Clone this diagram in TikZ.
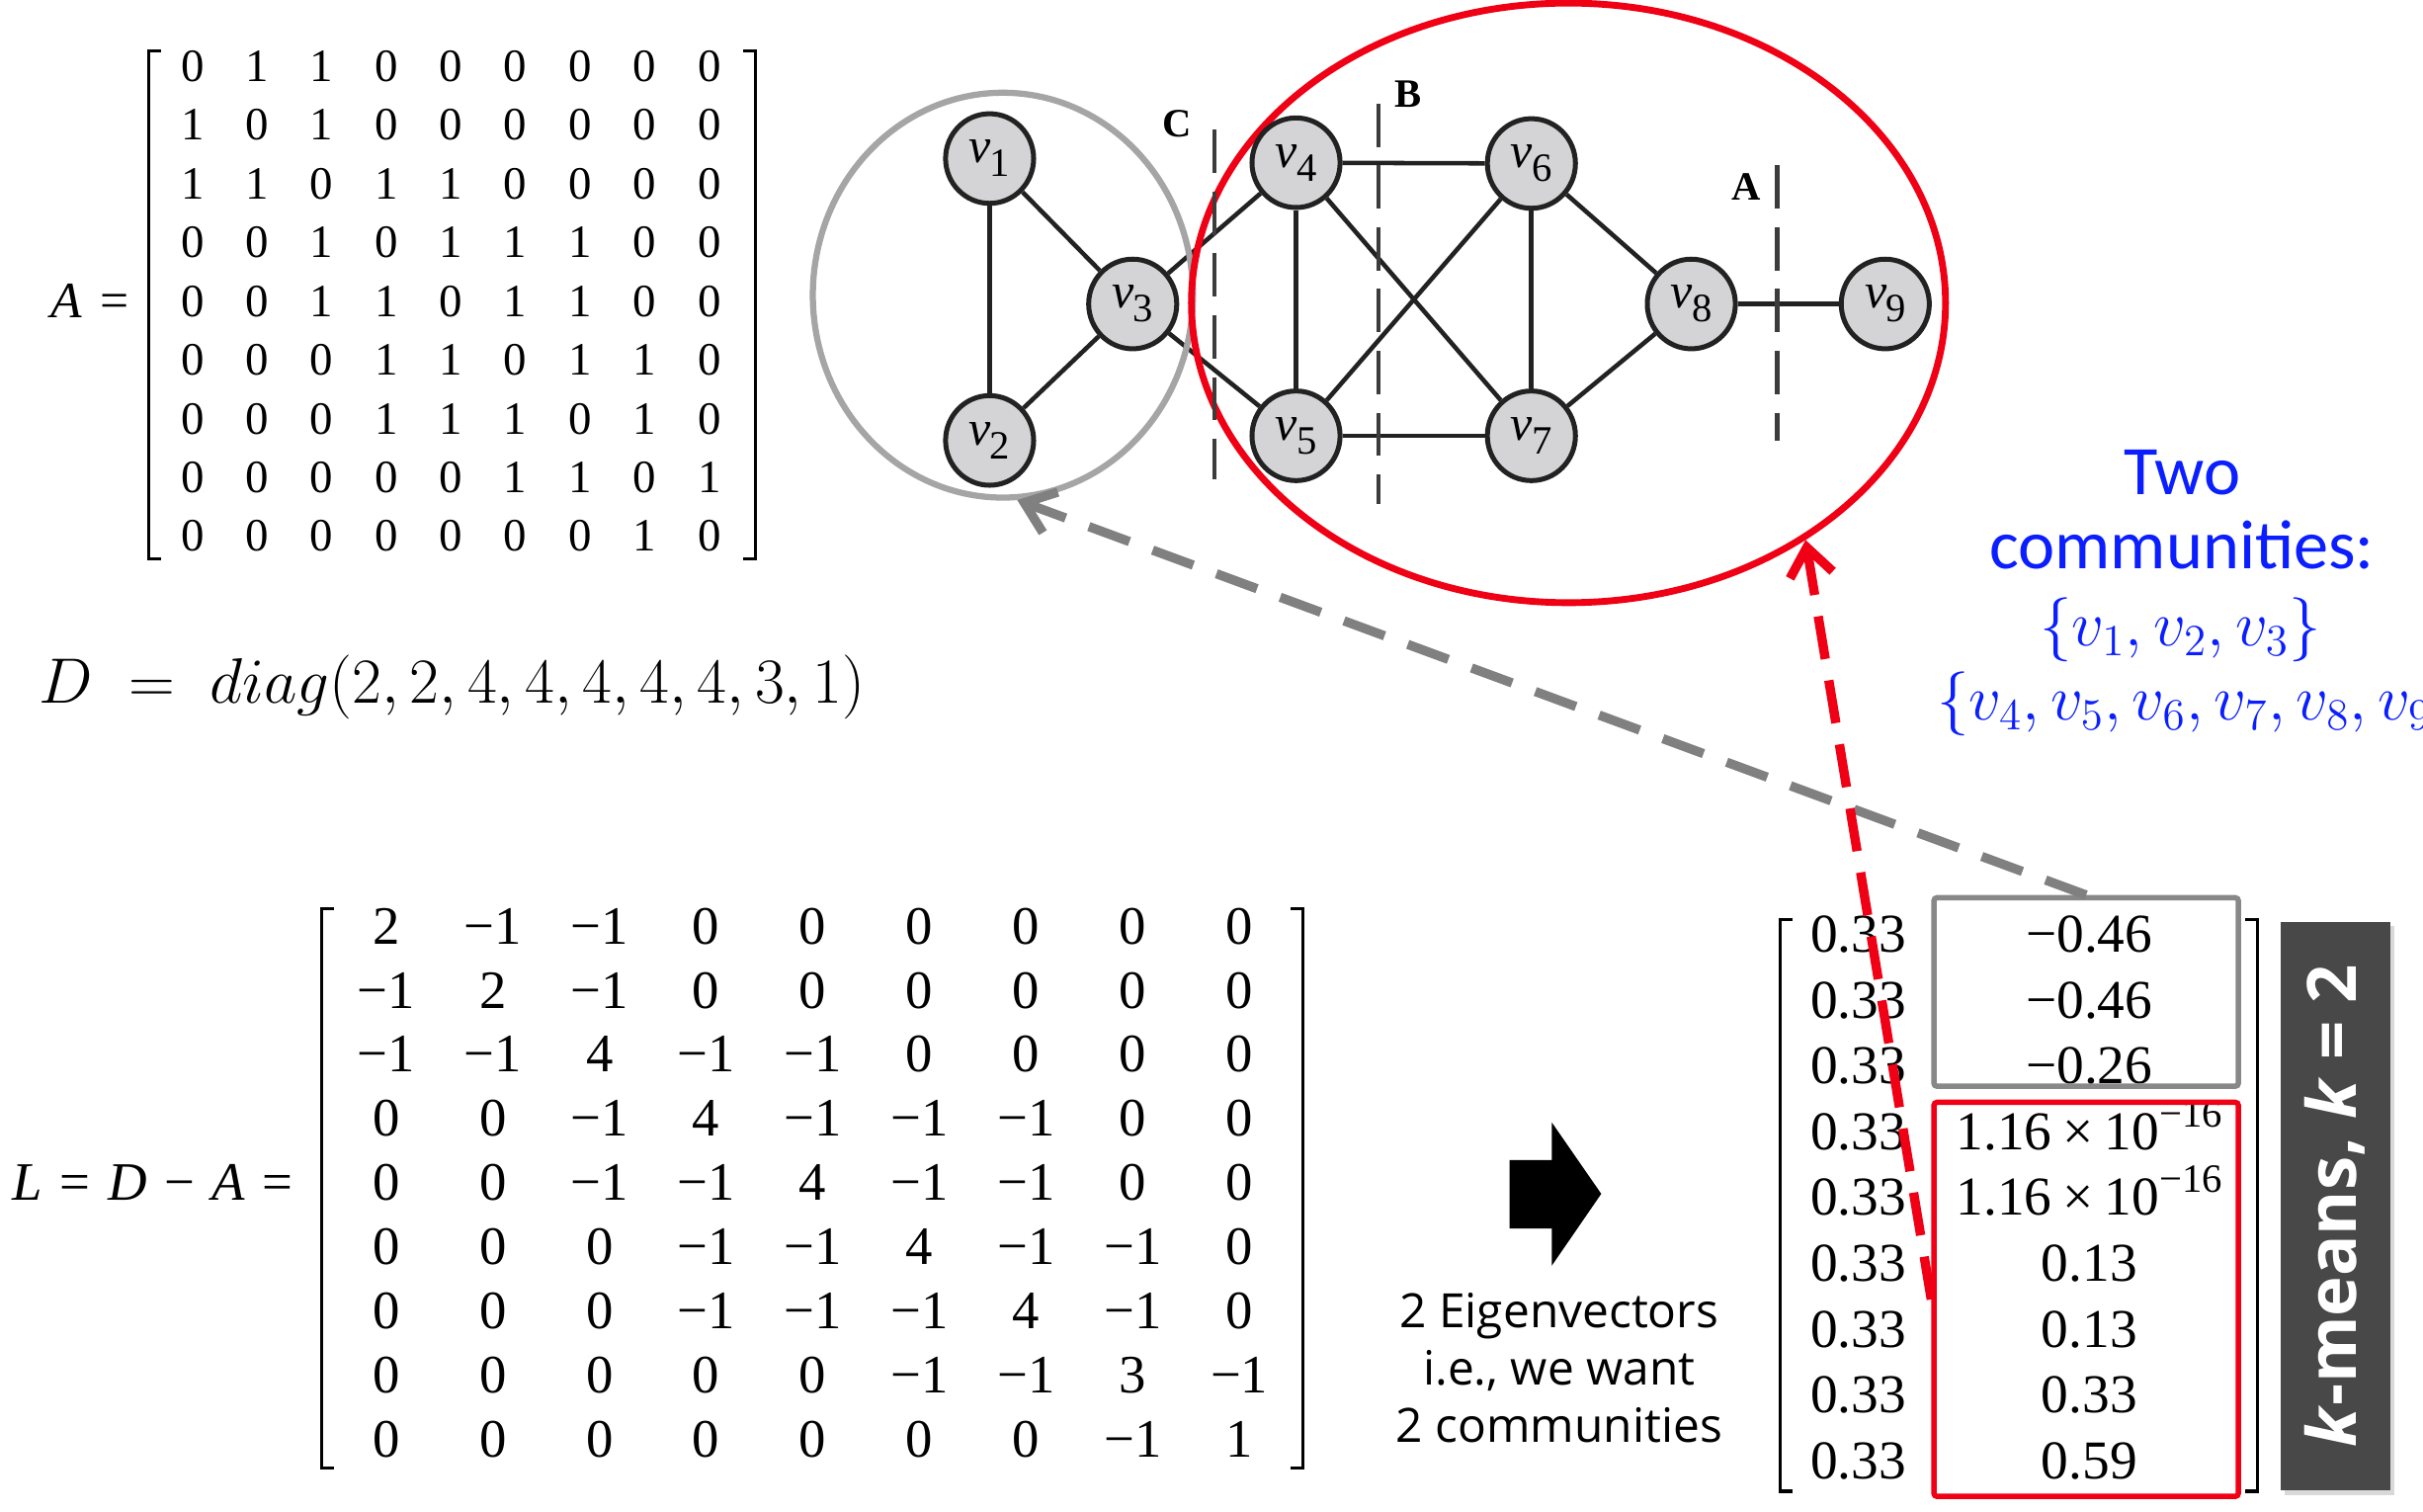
\documentclass[tikz,border=0pt]{standalone}
\usepackage{fontspec}
\setmainfont{Liberation Serif}
\newfontfamily\osans{Open Sans}
\newfontfamily\csans{Carlito}
\DeclareMathSizes{20}{20}{14.5}{10}
\usetikzlibrary{arrows.meta,shapes.geometric,shadows,backgrounds}
\definecolor{nodegray}{RGB}{212,212,214}
\definecolor{edgecol}{RGB}{34,34,34}
\definecolor{cutcol}{RGB}{60,60,60}
\definecolor{cred}{RGB}{240,0,20}
\definecolor{cblue}{RGB}{10,30,255}
\definecolor{circgray}{RGB}{165,165,165}
\definecolor{boxgray}{RGB}{136,136,136}
\definecolor{arrgray}{RGB}{128,128,128}
\definecolor{bardark}{RGB}{72,72,72}
\newcommand\vlab[1]{{\fontsize{16}{16}\selectfont\itshape v}\kern-0.3pt\raisebox{-4.5pt}{\fontsize{13}{13}\selectfont #1}}
\newcommand\lbr[3]{\draw[bracket] (#1+8,#2) -- (#1,#2) -- (#1,#3) -- (#1+8,#3);}
\newcommand\rbr[3]{\draw[bracket] (#1-8,#2) -- (#1,#2) -- (#1,#3) -- (#1-8,#3);}
\tikzset{
  vnode/.style={ellipse, draw=edgecol, fill=nodegray, line width=1.6pt, minimum width=28.5pt, minimum height=29pt, inner sep=0pt},
  edge/.style={draw=edgecol, line width=1.45pt},
  cutline/.style={draw=cutcol, line width=1.5pt, dash pattern=on 14pt off 6pt},
  cutlabel/.style={font=\fontsize{13}{13}\selectfont\bfseries, inner sep=0pt},
  amat/.style={font=\fontsize{15}{15}\selectfont, inner sep=0pt, text height=0.68em, text depth=0pt},
  lmat/.style={font=\fontsize{17.5}{17.5}\selectfont, inner sep=0pt, text height=0.68em, text depth=0pt},
  emat/.style={font=\fontsize{17.7}{17.7}\selectfont, inner sep=0pt, text height=0.68em, text depth=0pt},
  bracket/.style={draw=black, line width=1pt},
  garrow/.style={draw=arrgray, line width=3pt, dash pattern=on 14pt off 8pt, -{Straight Barb[length=9pt,width=14pt]}},
  rarrow/.style={draw=cred, line width=3pt, dash pattern=on 14pt off 7pt, -{Straight Barb[length=9pt,width=14pt]}},
  bluetxt/.style={text=cblue, inner sep=0pt},
  sidetxt/.style={font=\osans\fontsize{15.3}{18.5}\selectfont, inner sep=0pt, align=center},
}
\begin{document}
\begin{tikzpicture}[x=0.5pt,y=-0.5pt]
\useasboundingbox (0,0) rectangle (1568,978);
\clip (0,0) rectangle (1568,978);

% ---------------- adjacency matrix A
\node[amat, font=\fontsize{16.5}{16.5}\selectfont, anchor=east] (Alab) at (84,198.6) {\textit{A}\hspace{0.35em}=};
\foreach \row [count=\i] in {{0,1,1,0,0,0,0,0,0},{1,0,1,0,0,0,0,0,0},{1,1,0,1,1,0,0,0,0},{0,0,1,0,1,1,1,0,0},{0,0,1,1,0,1,1,0,0},{0,0,0,1,1,0,1,1,0},{0,0,0,1,1,1,0,1,0},{0,0,0,0,0,1,1,0,1},{0,0,0,0,0,0,0,1,0}}{
  \foreach \e [count=\j] in \row {
    \node[amat] (a-\i-\j) at ({124.6+41.8*(\j-1)},{46+38*(\i-1)}) {\e};
  }
}
\lbr{96}{33}{361.6}
\rbr{489}{33}{361.6}

% ---------------- degree matrix
\node[anchor=base west, inner sep=0pt, font=\fontsize{19.5}{19.5}\selectfont] (Dlab) at (25,455) {$D \;=\; diag(2, 2, 4, 4, 4, 4, 4, 3, 1)$};

% ---------------- Laplacian
\node[lmat, anchor=east] (Llab) at (190,770) {\textit{L}\hspace{0.32em}=\hspace{0.32em}\textit{D}\hspace{0.32em}−\hspace{0.32em}\textit{A}\hspace{0.32em}=};
\foreach \row [count=\i] in {{2,−1,−1,0,0,0,0,0,0},{−1,2,−1,0,0,0,0,0,0},{−1,−1,4,−1,−1,0,0,0,0},{0,0,−1,4,−1,−1,−1,0,0},{0,0,−1,−1,4,−1,−1,0,0},{0,0,0,−1,−1,4,−1,−1,0},{0,0,0,−1,−1,−1,4,−1,0},{0,0,0,0,0,−1,−1,3,−1},{0,0,0,0,0,0,0,−1,1}}{
  \foreach \e [count=\j] in \row {
    \node[lmat] (l-\i-\j) at ({250+69*(\j-1)},{604+41.5*(\i-1)}) {\e};
  }
}
\lbr{208}{588}{950}
\rbr{843}{588}{950}

% ---------------- graph
\node[ellipse, draw=circgray, line width=2pt, minimum width=123pt, minimum height=131pt, inner sep=0pt] (gcirc) at (649,191) {};
\node[ellipse, draw=cred, line width=2.2pt, minimum width=244pt, minimum height=194pt, inner sep=0pt] (rell) at (1015,196) {};

\node[vnode] (v1) at (640.4,102.6) {\vlab{1}};
\node[vnode] (v2) at (640.4,285) {\vlab{2}};
\node[vnode] (v3) at (733,196.7) {\vlab{3}};
\node[vnode] (v4) at (838.7,105.3) {\vlab{4}};
\node[vnode] (v5) at (838.7,282) {\vlab{5}};
\node[vnode] (v6) at (991,105.8) {\vlab{6}};
\node[vnode] (v7) at (991,282) {\vlab{7}};
\node[vnode] (v8) at (1094.5,196.7) {\vlab{8}};
\node[vnode] (v9) at (1220,196.7) {\vlab{9}};
\begin{scope}[on background layer]
\draw[edge] (v1) -- (v2);
\draw[edge] (v1) -- (v3);
\draw[edge] (v2) -- (v3);
\draw[edge] (v3) -- (v4);
\draw[edge] (v3) -- (v5);
\draw[edge] (v4) -- (v5);
\draw[edge] (v4) -- (v6);
\draw[edge] (v4) -- (v7);
\draw[edge] (v5) -- (v6);
\draw[edge] (v5) -- (v7);
\draw[edge] (v6) -- (v7);
\draw[edge] (v6) -- (v8);
\draw[edge] (v7) -- (v8);
\draw[edge] (v8) -- (v9);
\end{scope}

\draw[cutline] (786,84) -- (786,310);
\draw[cutline] (892,67) -- (892,326);
\draw[cutline] (1150,107) -- (1150,285);
\node[cutlabel] (labC) at (762,80) {C};
\node[cutlabel] (labB) at (911,61) {B};
\node[cutlabel] (labA) at (1130,121) {A};

% ---------------- communities text
\node[bluetxt, align=center, font=\csans\fontsize{22.5}{24}\selectfont] (two) at (1412,330) {Two\\communities:};
\node[bluetxt, anchor=base, font=\fontsize{20}{20}\selectfont] (set1) at (1411,418) {$\{v_1, v_2, v_3\}$};
\node[bluetxt, anchor=base west, font=\fontsize{20}{20}\selectfont] (set2) at (1253,466) {$\{v_4, v_5, v_6, v_7, v_8, v_9\}$};

% ---------------- block arrow and explanation
\fill[black] (976.8,750.6) -- (1004.2,750.6) -- (1004.2,726.3) -- (1036.2,772.5) -- (1004.2,819) -- (1004.2,794.9) -- (976.8,794.9) -- cycle;
\node[sidetxt] (eig) at (1009,885) {2 Eigenvectors\\i.e., we want\\2 communities};

% ---------------- eigenvectors
\foreach \v [count=\i] in {−0.46,−0.46,−0.26,{1.16\hspace{0.2em}×\hspace{0.2em}10\raisebox{0.42em}{\fontsize{13}{13}\selectfont −16}},{1.16\hspace{0.2em}×\hspace{0.2em}10\raisebox{0.42em}{\fontsize{13}{13}\selectfont −16}},0.13,0.13,0.33,0.59}{
  \node[emat] (e-\i-1) at (1202.5,{609.5+42.56*(\i-1)}) {0.33};
  \node[emat] (e-\i-2) at (1352,{609.5+42.56*(\i-1)}) {\v};
}
\lbr{1152}{595}{965}
\rbr{1461}{595}{965}
\node[draw=boxgray, line width=1.75pt, rounded corners=1pt, minimum width=98.5pt, minimum height=61pt, inner sep=0pt] (gbox) at (1350,641.9) {};
\node[draw=cred, line width=1.75pt, rounded corners=1pt, minimum width=98.5pt, minimum height=127.5pt, inner sep=0pt] (rbox) at (1350,840.8) {};

% ---------------- k-means bar
\node[fill=bardark, minimum width=35.5pt, minimum height=184pt, inner sep=0pt, drop shadow={shadow xshift=1.5pt, shadow yshift=-1.5pt, opacity=0.3}] (kbar) at (1511.25,780.4) {};
\node[rotate=90, text=white, inner sep=0pt, font=\osans\bfseries\fontsize{22}{22}\selectfont] (ktext) at (kbar.center) {\textit{k}-means, \textit{k} = 2};

% ---------------- dashed arrows
\draw[garrow] (gbox.north) -- (gcirc.-86.7);
\draw[rarrow] (rbox.west) -- (rell.-45.7);
\end{tikzpicture}
\end{document}
